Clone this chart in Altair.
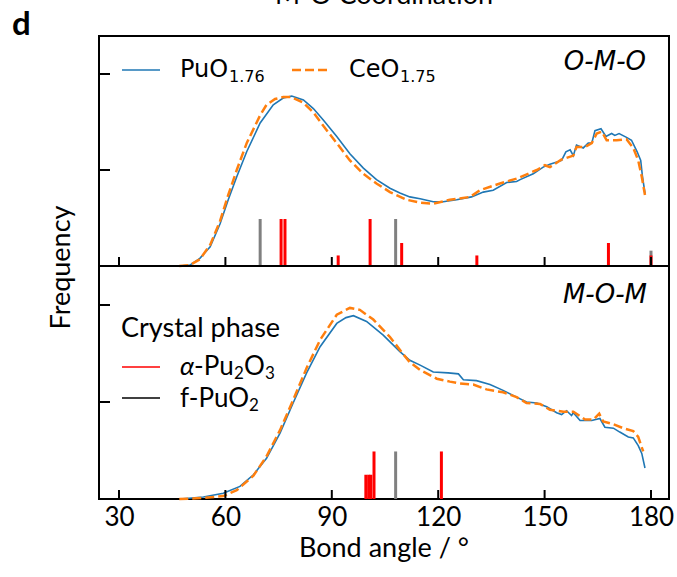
import altair as alt
import pandas as pd

# ---- O-M-O bond-angle distributions (top panel) ----
omo_pu_angle = [47.2, 50.0, 52.8, 55.7, 58.5, 60.8, 63.2, 66.0, 69.8, 73.5, 76.3, 78.7, 82.0,
                84.8, 87.6, 91.4, 95.1, 98.9, 102.6, 106.4, 109.2, 112.0, 114.9, 118.6, 121.4,
                125.2, 129.4, 132.7, 135.5, 139.3, 142.1, 143.1, 146.8, 149.6, 151.5, 154.8,
                156.0, 157.2, 158.1, 159.0, 160.9, 162.3, 163.3, 164.2, 165.9, 167.3, 168.9,
                169.8, 171.0, 173.1, 174.5, 176.1, 177.1, 177.6, 178.3]
omo_pu_freq = [0.0, 0.01, 0.08, 0.20, 0.44, 0.69, 0.93, 1.19, 1.49, 1.68, 1.75, 1.77, 1.73,
               1.64, 1.52, 1.35, 1.17, 1.02, 0.90, 0.81, 0.76, 0.72, 0.70, 0.67, 0.67,
               0.69, 0.72, 0.77, 0.79, 0.87, 0.88, 0.90, 0.96, 1.03, 1.06, 1.10,
               1.19, 1.21, 1.15, 1.26, 1.23, 1.28, 1.28, 1.41, 1.43, 1.35, 1.38,
               1.36, 1.38, 1.34, 1.31, 1.19, 1.10, 0.93, 0.76]

omo_ce_angle = [47.0, 50.0, 52.8, 55.7, 58.5, 60.8, 63.2, 66.0, 69.8, 71.6, 74.0, 76.3, 78.5,
                82.0, 84.8, 87.6, 91.4, 95.1, 98.9, 102.6, 106.4, 111.1, 114.9, 118.6, 123.3,
                129.0, 131.8, 137.4, 142.1, 147.8, 150.1, 151.5, 154.8, 158.1, 159.0, 161.4,
                163.3, 164.7, 166.1, 167.5, 170.3, 173.1, 175.0, 176.4, 177.4, 178.3]
omo_ce_freq = [0.0, 0.01, 0.07, 0.22, 0.47, 0.74, 1.00, 1.28, 1.57, 1.68, 1.74, 1.76, 1.76,
               1.70, 1.60, 1.46, 1.28, 1.10, 0.96, 0.86, 0.77, 0.69, 0.66, 0.65, 0.69,
               0.72, 0.79, 0.86, 0.91, 1.00, 1.05, 1.03, 1.11, 1.15, 1.24, 1.24,
               1.28, 1.38, 1.40, 1.31, 1.31, 1.32, 1.23, 1.10, 0.93, 0.74]

# ---- M-O-M bond-angle distributions (bottom panel) ----
mom_pu_angle = [47.2, 53.8, 59.4, 64.1, 67.9, 71.6, 75.4, 79.1, 82.9, 86.7, 91.4, 94.0, 96.1,
                99.8, 104.5, 109.2, 112.0, 114.9, 118.6, 122.8, 125.7, 127.1, 130.8, 134.6,
                138.3, 142.1, 144.9, 147.8, 150.6, 153.4, 154.8, 156.2, 157.6, 158.1, 160.0,
                163.3, 165.6, 167.0, 169.4, 171.2, 173.6, 175.0, 176.4, 177.4, 178.3]
mom_pu_freq = [0.0, 0.02, 0.06, 0.13, 0.25, 0.42, 0.68, 0.99, 1.30, 1.57, 1.81, 1.87, 1.89,
               1.83, 1.69, 1.52, 1.43, 1.38, 1.31, 1.30, 1.29, 1.23, 1.22, 1.18,
               1.12, 1.05, 1.00, 0.99, 0.95, 0.89, 0.87, 0.91, 0.86, 0.89, 0.81,
               0.81, 0.83, 0.74, 0.73, 0.69, 0.64, 0.63, 0.55, 0.47, 0.32]

mom_ce_angle = [47.0, 53.8, 59.4, 63.2, 67.9, 71.6, 75.4, 79.1, 82.9, 86.7, 91.4, 95.1, 97.9,
                101.7, 106.4, 110.2, 112.0, 114.9, 119.6, 123.3, 126.1, 129.9, 133.6, 138.3,
                142.1, 144.9, 148.7, 151.5, 155.3, 158.1, 161.4, 163.8, 165.4, 166.5, 169.4,
                172.2, 175.0, 176.4, 177.8]
mom_ce_freq = [0.0, 0.01, 0.03, 0.09, 0.24, 0.44, 0.71, 1.02, 1.35, 1.64, 1.90, 1.97, 1.95,
               1.85, 1.67, 1.49, 1.41, 1.33, 1.24, 1.21, 1.19, 1.18, 1.13, 1.10,
               1.05, 0.99, 0.98, 0.92, 0.90, 0.90, 0.82, 0.82, 0.88, 0.80, 0.77,
               0.73, 0.70, 0.64, 0.49]

# ---- reference crystal-phase angles (stick markers) ----
omo_pu2o3_angle = [75.7, 76.8, 91.8, 100.8, 109.7, 130.9, 168.0, 180.0]
omo_pu2o3_height = [0.49, 0.49, 0.11, 0.49, 0.24, 0.11, 0.24, 0.11]
omo_puo2_angle = [69.8, 108.0, 180.0]
omo_puo2_height = [0.49, 0.49, 0.16]

mom_pu2o3_angle = [99.6, 100.4, 101.0, 101.9, 120.9]
mom_pu2o3_height = [0.25, 0.25, 0.25, 0.49, 0.49]
mom_puo2_angle = [108.0]
mom_puo2_height = [0.49]

x_ticks = [30, 60, 90, 120, 150, 180]
y_ticks = [1, 2]

BLUE = "#1f77b4"
ORANGE = "#ff7f0e"
RED = "#ff0000"
GREY = "#808080"
SANS = "Lato"
MPL = "DejaVu Sans"

W, H = 570, 463          # plot area (two stacked panels)
MID = 230                # pixel row of the panel divider

x_scale = alt.Scale(domain=[24.361, 185.075], nice=False, zero=False)
top_scale = alt.Scale(domain=[-2.427, 2.396], nice=False, zero=False)
bot_scale = alt.Scale(domain=[0, 4.773], nice=False, zero=False)

# one shared x definition, so every layer carries the same bottom axis
X = alt.X("angle:Q", scale=x_scale,
          axis=alt.Axis(values=x_ticks, ticks=False, tickSize=0, domain=False, grid=False,
                        labelFont=SANS, labelFontSize=26, labelColor="black",
                        labelPadding=5, title=None))

one = alt.Data(values=[{}])


def frame(a, f):
    return pd.DataFrame({"angle": a, "freq": f})


def curve(a, f, scale, color, width, dash=None):
    kw = dict(color=color, strokeWidth=width)
    if dash:
        kw["strokeDash"] = dash
    return alt.Chart(frame(a, f)).mark_line(**kw).encode(
        x=X, y=alt.Y("freq:Q", scale=scale, axis=None), order="angle:Q")


def sticks(a, h, scale, color):
    return alt.Chart(frame(a, h)).mark_rule(color=color, strokeWidth=3).encode(
        x=X, y=alt.Y("freq:Q", scale=scale, axis=None), y2=alt.datum(0))


def text(s, x, y, size, font=SANS, style="normal", weight="normal",
         align="left", angle=0, baseline="alphabetic"):
    return alt.Chart(one).mark_text(
        font=font, fontSize=size, fontStyle=style, fontWeight=weight,
        align=align, baseline=baseline, angle=angle, color="black",
    ).encode(x=alt.value(x), y=alt.value(y), text=alt.value(s))


def hline(x1, x2, y, color, width, dash=None):
    kw = dict(color=color, strokeWidth=width)
    if dash:
        kw["strokeDash"] = dash
    return alt.Chart(one).mark_rule(**kw).encode(
        x=alt.value(x1), x2=alt.value(x2), y=alt.value(y))


tick_df = pd.DataFrame({"angle": x_ticks})
x_ticks_mid = alt.Chart(tick_df).mark_rule(color="black", strokeWidth=2).encode(
    x=X, y=alt.value(MID), y2=alt.value(MID - 9))
x_ticks_bot = alt.Chart(tick_df).mark_rule(color="black", strokeWidth=2).encode(
    x=X, y=alt.value(H), y2=alt.value(H - 9))

ytick_df = pd.DataFrame({"freq": y_ticks})
y_ticks_top = alt.Chart(ytick_df).mark_rule(color="black", strokeWidth=2).encode(
    y=alt.Y("freq:Q", scale=top_scale, axis=None), x=alt.value(0), x2=alt.value(11))
y_ticks_bot = alt.Chart(ytick_df).mark_rule(color="black", strokeWidth=2).encode(
    y=alt.Y("freq:Q", scale=bot_scale, axis=None), x=alt.value(0), x2=alt.value(11))

divider = hline(0, W, MID, "black", 2)

layers = [
    # top panel: O-M-O
    sticks(omo_puo2_angle, omo_puo2_height, top_scale, GREY),
    sticks(omo_pu2o3_angle, omo_pu2o3_height, top_scale, RED),
    curve(omo_pu_angle, omo_pu_freq, top_scale, BLUE, 1.6),
    curve(omo_ce_angle, omo_ce_freq, top_scale, ORANGE, 2.5, [9, 4]),
    # bottom panel: M-O-M
    sticks(mom_puo2_angle, mom_puo2_height, bot_scale, GREY),
    sticks(mom_pu2o3_angle, mom_pu2o3_height, bot_scale, RED),
    curve(mom_pu_angle, mom_pu_freq, bot_scale, BLUE, 1.6),
    curve(mom_ce_angle, mom_ce_freq, bot_scale, ORANGE, 2.5, [9, 4]),
    # frame pieces
    divider, x_ticks_mid, x_ticks_bot, y_ticks_top, y_ticks_bot,
    # series legend
    hline(23, 61, 34, BLUE, 1.6),
    text("PuO", 81, 41, 24, font=MPL),
    text("1.76", 130, 46, 16, font=MPL),
    hline(193, 231, 34, ORANGE, 2.5, [9, 4]),
    text("CeO", 250, 41, 24, font=MPL),
    text("1.75", 301, 46, 16, font=MPL),
    # panel tags
    text("O-M-O", 547, 34, 26, font=MPL, style="italic", align="right"),
    text("M-O-M", 548, 267, 26, font=MPL, style="italic", align="right"),
    # crystal-phase legend
    text("Crystal phase", 22, 301, 27),
    hline(23, 61, 331, RED, 1.6),
    text("α", 81, 339, 26, style="italic"),
    text("-Pu", 95, 339, 26),
    text("2", 135, 343, 17),
    text("O", 145, 339, 26),
    text("3", 166, 343, 17),
    hline(23, 61, 362, "black", 1.6),
    text("f-PuO", 81, 371, 26),
    text("2", 150, 375, 17),
    # titles
    text("Frequency", -37, H / 2, 27, angle=270, align="center", baseline="middle"),
    text("Bond angle / °", W / 2, 521, 27, align="center"),
    text("M-O Coordination", W / 2, -32, 27, align="center"),
    text("d", -87, -1, 33, weight="bold"),
]

chart = alt.layer(*layers).resolve_scale(y="independent").properties(
    width=W,
    height=H,
    autosize=alt.AutoSizeParams(type="none"),
    padding={"left": 99, "top": 36, "right": 8, "bottom": 78},
    background="white",
).configure_view(stroke="black", strokeWidth=2)

chart.save("out.html", embed_options={"renderer": "svg", "actions": False})
